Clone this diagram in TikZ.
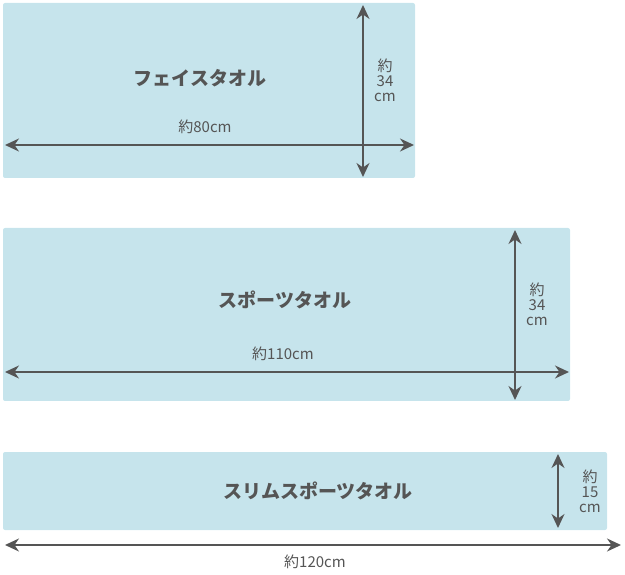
\documentclass[tikz,border=0pt]{standalone}
\usepackage{fontspec}
\setmainfont{Noto Sans CJK JP}
\usetikzlibrary{arrows.meta}
\definecolor{towel}{HTML}{C6E4EC}
\definecolor{ink}{HTML}{555555}
\tikzset{
  towelbox/.style={fill=towel,draw=none,rounded corners=2pt},
  dim/.style={draw=ink,line width=1.8pt,{Stealth[length=14pt,width=13pt]}-{Stealth[length=14pt,width=13pt]}},
  title/.style={text=ink,font=\bfseries\fontsize{19}{22}\selectfont},
  lab/.style={text=ink,font=\fontsize{15}{15}\selectfont,align=center,inner sep=1pt}
}
\begin{document}
\begin{tikzpicture}[x=1pt,y=-1pt]
\useasboundingbox (0,0) rectangle (625,575);
\fill[towelbox] (3,3) rectangle (415,178);
\fill[towelbox] (3,228) rectangle (570,401);
\fill[towelbox] (3,452) rectangle (607,530);
\node[title] (t1) at (200,78) {フェイスタオル};
\node[title] (t2) at (285,300) {スポーツタオル};
\node[title] (t3) at (318,491) {スリムスポーツタオル};
\coordinate (a1l) at (5,145); \coordinate (a1r) at (414,145);
\coordinate (a1t) at (363,5); \coordinate (a1b) at (363,177);
\draw[dim] (a1l) -- (a1r);
\draw[dim] (a1t) -- (a1b);
\node[lab] (l1) at (205,127) {約80cm};
\node[lab] (v1) at (385,80) {約\\34\\cm};
\coordinate (a2l) at (5,372); \coordinate (a2r) at (569,372);
\coordinate (a2t) at (515,230); \coordinate (a2b) at (515,400);
\draw[dim] (a2l) -- (a2r);
\draw[dim] (a2t) -- (a2b);
\node[lab] (l2) at (283,354) {約110cm};
\node[lab] (v2) at (537,304) {約\\34\\cm};
\coordinate (a3t) at (558,454); \coordinate (a3b) at (558,528);
\draw[dim] (a3t) -- (a3b);
\node[lab] (v3) at (590,491) {約\\15\\cm};
\coordinate (a4l) at (5,545); \coordinate (a4r) at (621,545);
\draw[dim] (a4l) -- (a4r);
\node[lab] (l4) at (315,562) {約120cm};
\end{tikzpicture}
\end{document}
